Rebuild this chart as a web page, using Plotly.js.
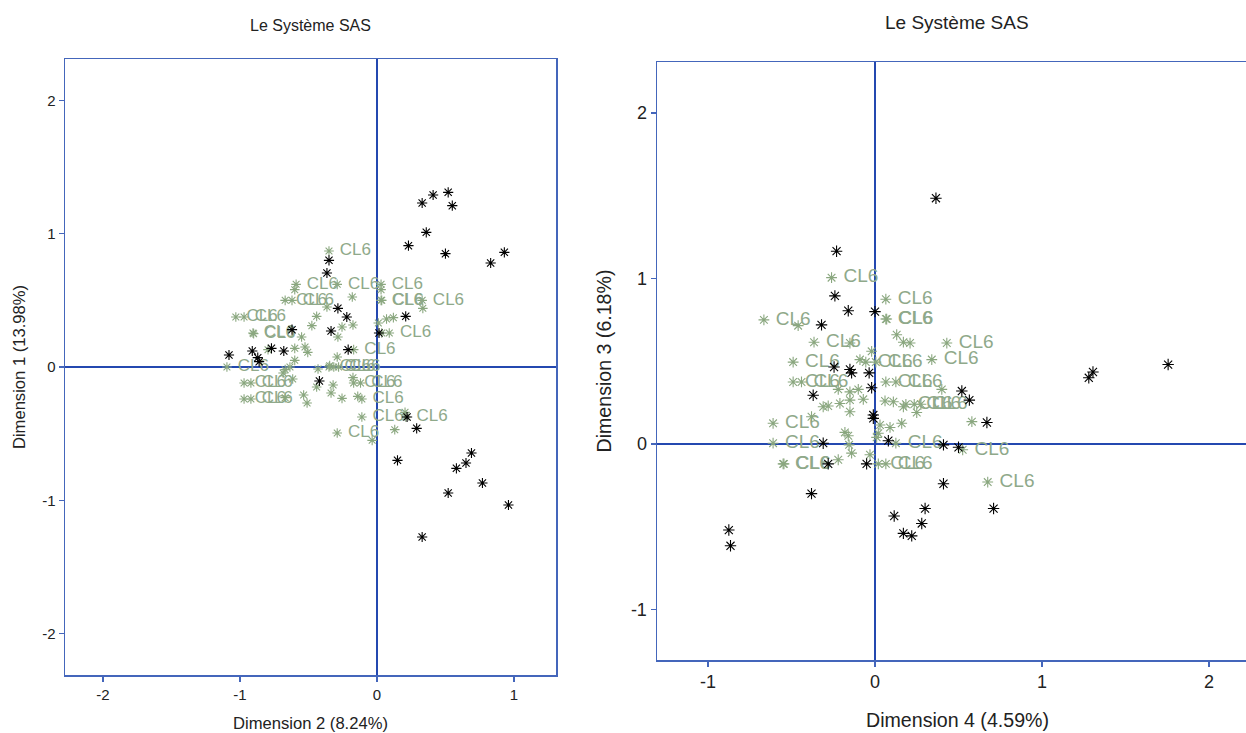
<!DOCTYPE html>
<html>
<head>
<meta charset="utf-8">
<script src="https://cdn.plot.ly/plotly-3.0.1.min.js"></script>
<style>
html,body{margin:0;padding:0;overflow:hidden;background:#fff;}
#chart{width:1258px;height:733px;}
</style>
</head>
<body>
<div id="chart"></div>
<script>
// ---------- Left panel: Dimension 2 (x) vs Dimension 1 (y) ----------
const blackL_x = [0.33,0.41,0.52,0.55,0.36,0.23,0.50,0.83,0.93,0.21,0.22,0.29,0.69,0.65,0.58,0.77,0.52,0.96,0.33,0.15,-0.35,-0.365,-0.285,-0.22,-0.62,-0.335,0.015,-1.08,-0.91,-0.87,-0.86,-0.77,-0.68,-0.21,-0.42];
const blackL_y = [1.23,1.29,1.31,1.21,1.01,0.91,0.85,0.78,0.86,0.38,-0.375,-0.46,-0.645,-0.72,-0.76,-0.87,-0.945,-1.035,-1.275,-0.70,0.80,0.705,0.44,0.375,0.28,0.27,0.255,0.09,0.12,0.07,0.04,0.14,0.12,0.13,-0.105];

const labL_x = [-0.35,-0.59,-0.29,0.03,-0.67,-0.62,0.03,0.035,0.33,-1.03,-0.97,-0.905,-0.90,0.09,-0.17,-1.095,-0.35,-0.315,-0.28,-0.97,-0.92,-0.17,-0.12,-0.97,-0.92,-0.11,-0.11,0.21,-0.29];
const labL_y = [0.87,0.62,0.62,0.62,0.50,0.50,0.50,0.50,0.50,0.375,0.375,0.255,0.25,0.255,0.13,0.0,0.0,0.0,0.0,-0.12,-0.12,-0.12,-0.12,-0.24,-0.24,-0.24,-0.375,-0.375,-0.495];

const greenL_x = [-0.60,-0.18,0.03,-0.365,-0.44,-0.475,-0.255,-0.175,-0.285,-0.55,0.01,0.07,0.12,0.335,0.035,-0.60,-0.525,-0.795,-0.505,-0.29,-0.60,-0.345,-0.635,-0.67,-0.685,-0.43,-0.615,-0.175,-0.32,-0.44,-0.335,-0.535,-0.255,-0.14,-0.51,-0.67,0.13,-0.035,0.205];
const greenL_y = [0.58,0.525,0.58,0.45,0.38,0.31,0.30,0.315,0.225,0.225,0.33,0.36,0.37,0.44,0.255,0.14,0.15,0.13,0.11,0.075,0.05,0.01,0.0,-0.02,-0.045,-0.015,-0.09,-0.08,-0.135,-0.15,-0.195,-0.21,-0.235,-0.22,-0.27,-0.23,-0.47,-0.55,-0.34];

// ---------- Right panel: Dimension 4 (x) vs Dimension 3 (y) ----------
const blackR_x = [0.365,-0.23,-0.24,-0.16,0.0,-0.32,-0.245,-0.15,-0.14,-0.035,-0.02,-0.37,0.52,0.565,0.67,-0.01,-0.01,-0.31,0.08,0.41,0.50,-0.28,-0.05,1.305,1.28,1.755,0.41,0.30,0.71,0.115,0.28,0.17,0.22,-0.875,-0.865,-0.38];
const blackR_y = [1.485,1.165,0.895,0.805,0.80,0.72,0.465,0.45,0.43,0.43,0.34,0.295,0.32,0.265,0.13,0.175,0.155,0.005,0.02,-0.005,-0.02,-0.12,-0.12,0.435,0.40,0.48,-0.24,-0.39,-0.39,-0.435,-0.48,-0.54,-0.555,-0.52,-0.615,-0.30];

const labR_x = [-0.26,0.065,0.065,0.07,-0.665,-0.365,0.43,-0.49,-0.055,0.005,0.34,-0.49,-0.44,0.065,0.125,0.185,0.235,0.275,-0.61,-0.61,0.125,0.525,-0.55,-0.545,0.02,0.065,0.675];
const labR_y = [1.005,0.875,0.755,0.755,0.75,0.615,0.61,0.495,0.495,0.495,0.51,0.375,0.375,0.375,0.375,0.24,0.24,0.24,0.125,0.005,0.005,-0.035,-0.12,-0.12,-0.12,-0.12,-0.23];

const greenR_x = [-0.46,-0.15,-0.02,-0.09,0.13,0.17,0.21,-0.22,-0.15,-0.10,-0.31,-0.28,-0.21,-0.15,-0.07,0.06,0.11,0.17,0.25,0.40,-0.15,-0.38,0.03,0.09,0.16,0.02,0.01,-0.18,-0.16,-0.155,-0.14,-0.22,-0.03,0.58];
const greenR_y = [0.715,0.61,0.56,0.51,0.66,0.615,0.61,0.33,0.315,0.33,0.225,0.23,0.245,0.265,0.27,0.26,0.255,0.225,0.19,0.33,0.195,0.165,0.115,0.10,0.125,0.065,0.04,0.07,0.05,-0.005,-0.055,-0.095,-0.065,0.135];

const labelText = 'CL6';
const plotTitle = 'Le Système SAS';
const xTitleL = 'Dimension 2 (8.24%)', yTitleL = 'Dimension 1 (13.98%)';
const xTitleR = 'Dimension 4 (4.59%)', yTitleR = 'Dimension 3 (6.18%)';
const ticksL_x = [-2,-1,0,1], ticksL_y = [-2,-1,0,1,2];
const ticksR_x = [-1,0,1,2], ticksR_y = [-1,0,1,2];

const GREEN = '#8aa77f';
const LABEL = '#8fa98a';
const BLACK = '#000000';
const FRAME = '#4466bb';
const ZERO = '#2448b0';
const FONT = '"Liberation Sans", Arial, sans-serif';

function star(x, y, color, size, xa, ya) {
  return {x: x, y: y, xaxis: xa, yaxis: ya, type: 'scatter', mode: 'markers',
    marker: {symbol: 'asterisk-open', size: size, color: color, line: {color: color, width: 1.1}},
    hoverinfo: 'x+y', showlegend: false};
}
function labeled(x, y, size, fs, xa, ya) {
  return {x: x, y: y, xaxis: xa, yaxis: ya, type: 'scatter', mode: 'markers+text',
    text: x.map(() => '\u00a0' + labelText), textposition: 'middle right',
    textfont: {family: FONT, size: fs, color: LABEL},
    marker: {symbol: 'asterisk-open', size: size, color: GREEN, line: {color: GREEN, width: 1.1}},
    hoverinfo: 'x+y+text', showlegend: false};
}

const data = [
  labeled(labL_x, labL_y, 8, 17, 'x', 'y'),
  star(greenL_x, greenL_y, GREEN, 8, 'x', 'y'),
  star(blackL_x, blackL_y, BLACK, 8.5, 'x', 'y'),
  labeled(labR_x, labR_y, 9, 19, 'x2', 'y2'),
  star(greenR_x, greenR_y, GREEN, 9, 'x2', 'y2'),
  star(blackR_x, blackR_y, BLACK, 9.5, 'x2', 'y2')
];

function axis(dom, rng, tv, fs, anchor, title, tfs, standoff) {
  return {domain: dom, range: rng, tickvals: tv, ticktext: tv.map(v => String(v)),
    ticks: 'outside', ticklen: 5, tickwidth: 1.5,
    tickcolor: FRAME, showline: true, mirror: true, linecolor: FRAME, linewidth: 1.5,
    zeroline: true, zerolinecolor: ZERO, zerolinewidth: 1.2, showgrid: false,
    tickfont: {family: FONT, size: fs, color: '#222'}, anchor: anchor, fixedrange: true,
    title: {text: title, font: {family: FONT, size: tfs, color: '#222'}, standoff: standoff},
    automargin: false};
}

const W = 1258, H = 733;
const layout = {
  width: W, height: H,
  margin: {l: 0, r: 0, t: 0, b: 0},
  paper_bgcolor: '#fff', plot_bgcolor: '#fff',
  font: {family: FONT},
  xaxis: axis([65/W, 556/W], [-2.277, 1.307], ticksL_x, 15, 'y', xTitleL, 16.6, 20),
  yaxis: axis([1-675/H, 1-59/H], [-2.31, 2.31], ticksL_y, 15, 'x', yTitleL, 16.6, 12),
  xaxis2: axis([657/W, 1], [-1.305, 2.293], ticksR_x, 18, 'y2', xTitleR, 19.6, 22),
  yaxis2: axis([1-660/H, 1-62/H], [-1.305, 2.308], ticksR_y, 18, 'x2', yTitleR, 19.6, 14),
  annotations: [
    {text: plotTitle, xref: 'paper', yref: 'paper', x: 310/W, y: 1-25/H, showarrow: false,
     xanchor: 'center', yanchor: 'middle', font: {family: FONT, size: 16, color: '#222'}},
    {text: plotTitle, xref: 'paper', yref: 'paper', x: 957/W, y: 1-22/H, showarrow: false,
     xanchor: 'center', yanchor: 'middle', font: {family: FONT, size: 19, color: '#222'}}
  ]
};

Plotly.newPlot('chart', data, layout, {displayModeBar: false, staticPlot: true});
</script>
</body>
</html>
